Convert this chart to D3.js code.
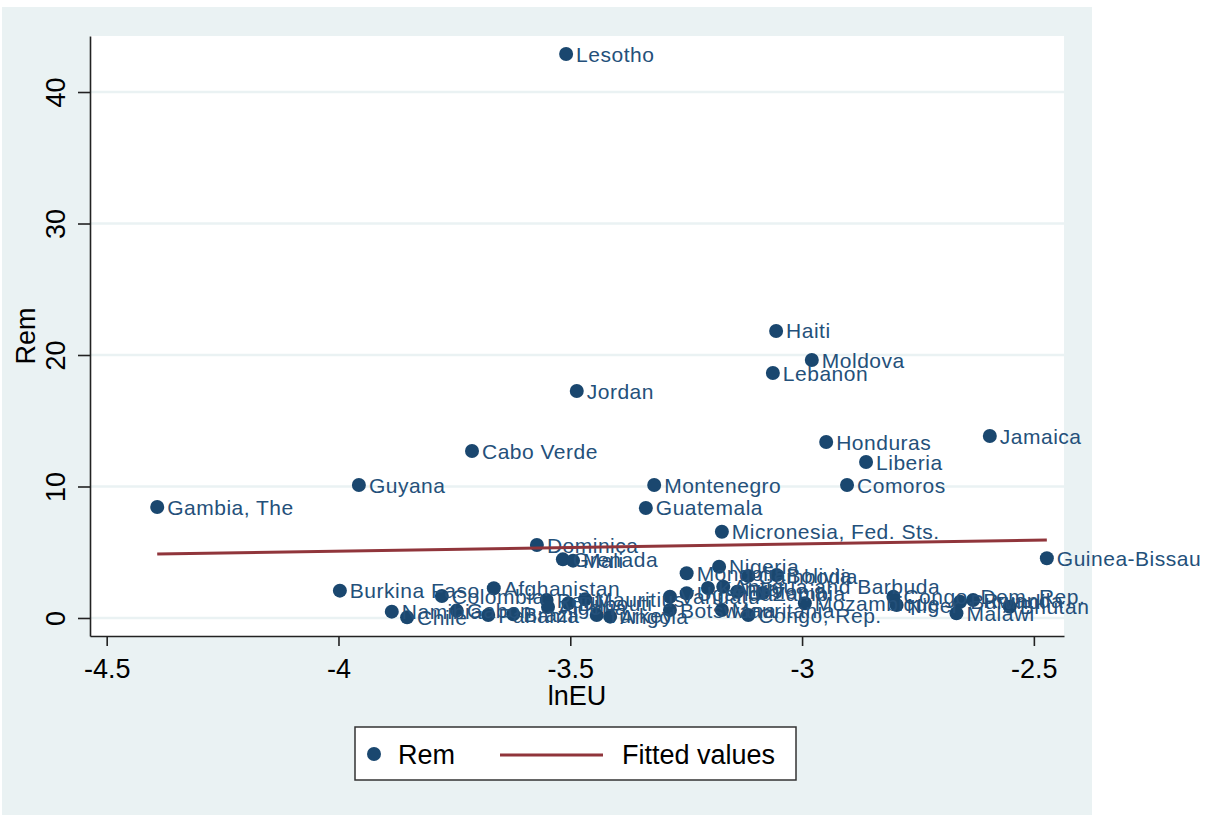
<!DOCTYPE html>
<html>
<head>
<meta charset="utf-8">
<script src="https://cdn.jsdelivr.net/npm/d3@7"></script>
<style>
  body { margin: 0; background: #fff; }
  svg { display: block; font-family: "Liberation Sans", Arial, sans-serif; }
</style>
</head>
<body>
<div id="chart"></div>
<script>
// Scatter of Rem against lnEU, with country labels and a linear fit
const countries = [
  'Lesotho', 'Haiti', 'Moldova', 'Lebanon', 'Jordan', 'Cabo Verde', 'Honduras', 'Jamaica',
  'Liberia', 'Comoros', 'Montenegro', 'Guatemala', 'Guyana', 'Gambia, The',
  'Micronesia, Fed. Sts.', 'Dominica', 'Guinea-Bissau', 'Grenada', 'Mali', 'Nigeria',
  'Mongolia', 'Cambodia', 'Bolivia', 'Burkina Faso', 'Colombia', 'Afghanistan', 'Namibia',
  'Chile', 'Gabon', 'Panama', 'Brazil', 'Peru', 'Algeria', 'Djibouti', 'Mauritius', 'Turkey',
  'Angola', 'Vanuatu', 'Botswana', 'Uganda', 'Kenya', 'Antigua and Barbuda', 'Mauritania',
  'Ethiopia', 'Zambia', 'Congo, Rep.', 'Mozambique', 'Congo, Dem. Rep.', 'Niger', 'Burundi',
  'Rwanda', 'Malawi', 'Bhutan'
];
const lnEU = [
  -3.509, -3.056, -2.979, -3.063, -3.486, -3.712, -2.948, -2.595,
  -2.862, -2.903, -3.319, -3.337, -3.956, -4.391,
  -3.173, -3.572, -2.472, -3.516, -3.494, -3.179,
  -3.249, -3.116, -3.055, -3.997, -3.777, -3.665, -3.885,
  -3.852, -3.745, -3.677, -3.623, -3.551, -3.548, -3.504, -3.468, -3.443,
  -3.414, -3.285, -3.285, -3.249, -3.203, -3.170, -3.173,
  -3.140, -3.085, -3.116, -2.994, -2.803, -2.796, -2.659,
  -2.631, -2.667, -2.552
];
const rem = [
  42.89, 21.83, 19.62, 18.63, 17.26, 12.70, 13.38, 13.84,
  11.86, 10.11, 10.11, 8.37, 10.11, 8.44,
  6.56, 5.55, 4.54, 4.46, 4.36, 3.90,
  3.40, 3.19, 3.27, 2.08, 1.67, 2.26, 0.48,
  0.05, 0.56, 0.23, 0.28, 1.37, 0.84, 1.12, 1.42, 0.23,
  0.10, 1.62, 0.61, 1.88, 2.28, 2.38, 0.61,
  2.00, 1.90, 0.23, 1.12, 1.62, 0.99, 1.24,
  1.37, 0.36, 0.86
];
// Fitted values (endpoints of the fitted line)
const fitX = [-4.391, -2.472];
const fitY = [4.87, 5.93];

const xTicks = [-4.5, -4, -3.5, -3, -2.5];
const yTicks = [0, 10, 20, 30, 40];

const width = 1207, height = 815;
const plot = { left: 90, right: 1064, top: 36, bottom: 636 };
const navy = '#1a476f', maroon = '#90353b', bg = '#eaf2f3';

const points = countries.map((c, i) => ({ name: c, x: lnEU[i], y: rem[i] }));
const fit = fitX.map((v, i) => ({ x: v, y: fitY[i] }));

const svg = d3.select('#chart').append('svg')
  .attr('width', width)
  .attr('height', height);

// graph region background
svg.append('rect')
  .attr('x', 2).attr('y', 7)
  .attr('width', 1090).attr('height', 808)
  .attr('fill', bg);

svg.append('rect')
  .attr('x', plot.left).attr('y', plot.top)
  .attr('width', plot.right - plot.left)
  .attr('height', plot.bottom - plot.top)
  .attr('fill', '#fff');

const x = d3.scaleLinear().domain([-4.536, -2.435]).range([plot.left, plot.right]);
const y = d3.scaleLinear().domain([-1.37, 44.26]).range([plot.bottom, plot.top]);

// horizontal grid
svg.append('g')
  .selectAll('line')
  .data(yTicks)
  .join('line')
  .attr('x1', plot.left).attr('x2', plot.right)
  .attr('y1', d => y(d)).attr('y2', d => y(d))
  .attr('stroke', bg)
  .attr('stroke-width', 2.5);

// axes
const xAxis = svg.append('g')
  .attr('transform', `translate(0,${plot.bottom})`)
  .call(d3.axisBottom(x).tickValues(xTicks).tickSize(10).tickSizeOuter(0).tickPadding(13)
    .tickFormat(d => String(d)));
xAxis.selectAll('text').attr('font-size', 27).attr('fill', '#000').attr('font-family', 'Liberation Sans, Arial, sans-serif');

const yAxis = svg.append('g')
  .attr('transform', `translate(${plot.left},0)`)
  .call(d3.axisLeft(y).tickValues(yTicks).tickSize(12).tickSizeOuter(0));
yAxis.selectAll('text')
  .attr('x', 0).attr('dy', 0)
  .attr('text-anchor', 'middle')
  .attr('transform', 'translate(-25,0) rotate(-90)')
  .attr('font-size', 27).attr('fill', '#000')
  .attr('font-family', 'Liberation Sans, Arial, sans-serif');

svg.selectAll('.domain, .tick line').attr('stroke', '#222').attr('stroke-width', 1.6);

// axis titles
svg.append('text')
  .attr('x', (plot.left + plot.right) / 2)
  .attr('y', 705)
  .attr('text-anchor', 'middle')
  .attr('font-size', 27)
  .text('lnEU');

svg.append('text')
  .attr('transform', `translate(35,${(plot.top + plot.bottom) / 2}) rotate(-90)`)
  .attr('text-anchor', 'middle')
  .attr('font-size', 27)
  .text('Rem');

// scatter with labels
const marks = svg.append('g');
marks.selectAll('circle')
  .data(points)
  .join('circle')
  .attr('cx', d => x(d.x))
  .attr('cy', d => y(d.y))
  .attr('r', 7)
  .attr('fill', navy);

marks.selectAll('text')
  .data(points)
  .join('text')
  .attr('x', d => x(d.x) + 10)
  .attr('y', d => y(d.y))
  .attr('dy', '0.36em')
  .attr('font-size', 21)
  .attr('letter-spacing', 0.5)
  .attr('fill', '#24507a')
  .text(d => d.name);

// fitted line
svg.append('path')
  .datum(fit)
  .attr('fill', 'none')
  .attr('stroke', maroon)
  .attr('stroke-width', 3)
  .attr('d', d3.line().x(d => x(d.x)).y(d => y(d.y)));

// legend
const legend = svg.append('g');
legend.append('rect')
  .attr('x', 355).attr('y', 727)
  .attr('width', 441).attr('height', 53)
  .attr('fill', '#fff')
  .attr('stroke', '#333')
  .attr('stroke-width', 1.5);
legend.append('circle')
  .attr('cx', 374).attr('cy', 754).attr('r', 7)
  .attr('fill', navy);
legend.append('text')
  .attr('x', 398).attr('y', 764)
  .attr('font-size', 27)
  .text('Rem');
legend.append('line')
  .attr('x1', 500).attr('x2', 603)
  .attr('y1', 755).attr('y2', 755)
  .attr('stroke', maroon)
  .attr('stroke-width', 3);
legend.append('text')
  .attr('x', 622).attr('y', 764)
  .attr('font-size', 27)
  .text('Fitted values');
</script>
</body>
</html>
